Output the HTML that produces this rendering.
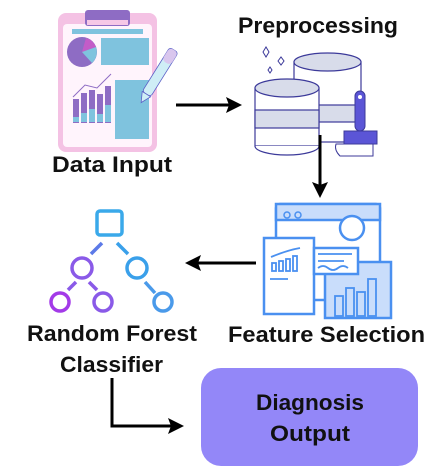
<!DOCTYPE html>
<html><head><meta charset="utf-8"><style>
html,body{margin:0;padding:0;background:#fff;width:432px;height:475px;overflow:hidden}
text{font-family:"Liberation Sans",sans-serif;font-weight:bold;fill:#111}
</style></head><body>
<svg width="432" height="475" viewBox="0 0 432 475" xmlns="http://www.w3.org/2000/svg">
<!-- Clipboard -->
<rect x="58" y="13" width="99" height="139" rx="8" fill="#f4c2e4"/>
<rect x="63" y="24" width="89" height="123" rx="4" fill="#fff4fc"/>
<rect x="85" y="10" width="45" height="16" rx="3" fill="#8e6cc4"/>
<rect x="87" y="20" width="41" height="5" fill="#f6c8e6"/>
<rect x="72" y="29" width="71" height="5" fill="#7fc3de"/>
<circle cx="82" cy="52" r="15" fill="#8e6cc4"/>
<path d="M82 52 L86 38 A15 15 0 0 1 96 47 Z" fill="#c35cc8"/>
<path d="M82 52 L96 47 A15 15 0 0 1 92 63 Z" fill="#7fc3de"/>
<rect x="101" y="38" width="48" height="27" fill="#7fc3de"/>
<rect x="115" y="80" width="34" height="59" fill="#7fc3de"/>
<polyline points="73,97 85,85 97,88 111,74" fill="none" stroke="#8e6cc4" stroke-width="1"/>
<g fill="#8e6cc4">
<rect x="73" y="99" width="6" height="24"/><rect x="81" y="93" width="6" height="30"/><rect x="89" y="90" width="6" height="33"/><rect x="97" y="94" width="6" height="29"/><rect x="105" y="86" width="6" height="37"/></g>
<g fill="#7fc3de"><rect x="73" y="117" width="6" height="5"/><rect x="81" y="113" width="6" height="9"/><rect x="89" y="109" width="6" height="13"/><rect x="97" y="114" width="6" height="8"/><rect x="105" y="105" width="6" height="17"/></g>
<g transform="translate(174,50) rotate(32)">
<rect x="-5" y="0" width="10" height="52" rx="3" fill="#cfeef6" stroke="#5b5fc7" stroke-width="0.8"/>
<rect x="-5" y="0" width="10" height="15" rx="4" fill="#d9c6ee"/>
<path d="M-5 52 L0 62 L5 52 Z" fill="#cfeef6" stroke="#5b5fc7" stroke-width="0.8"/>
</g>
<text x="52" y="172" font-size="22" textLength="120" lengthAdjust="spacingAndGlyphs">Data Input</text>

<!-- arrow right -->
<line x1="176" y1="105" x2="230" y2="105" stroke="#000" stroke-width="3"/>
<path d="M242 105 L226 97 L229 105 L226 113 Z" fill="#000"/>

<!-- Preprocessing -->
<text x="238" y="33" font-size="22" textLength="160" lengthAdjust="spacingAndGlyphs">Preprocessing</text>
<g stroke="#3c3a9a" stroke-width="1.2" fill="#fff">
<rect x="294" y="62" width="67" height="80"/>
<ellipse cx="327.5" cy="62" rx="33.5" ry="9" fill="#d8dcea"/>
<rect x="294" y="105" width="67" height="17" fill="#d8dcea"/>
<rect x="255" y="88" width="64" height="58"/>
<rect x="255" y="110" width="64" height="18" fill="#d8dcea"/>
<ellipse cx="287" cy="88" rx="32" ry="9" fill="#d8dcea"/>
<path d="M255 146 A32 9 0 0 0 319 146" />
</g>
<g fill="#5b55d6" stroke="#3c3a9a">
<rect x="355" y="91" width="10" height="40" rx="5"/>
<path d="M344 131 H377 V144 H344 Z"/>
</g>
<circle cx="360" cy="97" r="2" fill="#fff"/>
<path d="M336 144 H373 V156 H340 Q334 150 336 144Z" fill="#fff" stroke="#3c3a9a" stroke-width="1"/>
<g fill="none" stroke="#3c3a9a" stroke-width="1"><path d="M263 52 l3 -5 l3 5 l-3 5z M278 61 l3 -4 l3 4 l-3 4z M268 70 l2 -3 l2 3 l-2 3z"/></g>

<!-- arrow down -->
<line x1="320" y1="135" x2="320" y2="185" stroke="#000" stroke-width="3"/>
<path d="M320 198 L312 182 L320 185 L328 182 Z" fill="#000"/>

<!-- Feature Selection icon -->
<g stroke="#4a90f0" stroke-width="2.5">
<rect x="276" y="204" width="104" height="96" rx="4" fill="#fff"/>
<rect x="276" y="204" width="104" height="16" fill="#c9ddfb"/>
<rect x="325" y="262" width="66" height="56" fill="#c9ddfb"/>
<rect x="264" y="238" width="50" height="76" fill="#fff"/>
<rect x="314" y="248" width="44" height="26" fill="#fff"/>
<circle cx="352" cy="228" r="12" fill="#fff"/>
</g>
<circle cx="287" cy="215" r="3" fill="none" stroke="#4a90f0" stroke-width="1.5"/>
<circle cx="298" cy="215" r="3" fill="none" stroke="#4a90f0" stroke-width="1.5"/>
<g fill="none" stroke="#4a90f0" stroke-width="1.8">
<rect x="272" y="263" width="4" height="8"/><rect x="279" y="261" width="4" height="10"/><rect x="286" y="259" width="4" height="12"/><rect x="293" y="256" width="4" height="15"/>
<path d="M271 257 Q288 250 300 248"/><line x1="270" y1="279" x2="288" y2="279"/>
<line x1="318" y1="254" x2="352" y2="254"/><line x1="318" y1="261" x2="344" y2="261"/><path d="M318 268 q5 -4 10 0 t10 0 t10 0"/>
<rect x="335" y="296" width="8" height="20"/><rect x="346" y="288" width="8" height="28"/><rect x="357" y="292" width="8" height="24"/><rect x="368" y="279" width="8" height="37"/>
</g>
<text x="228" y="342" font-size="22" textLength="197" lengthAdjust="spacingAndGlyphs">Feature Selection</text>

<!-- arrow left -->
<line x1="256" y1="263" x2="198" y2="263" stroke="#000" stroke-width="3"/>
<path d="M185 263 L201 255 L198 263 L201 271 Z" fill="#000"/>

<!-- Tree icon -->
<g fill="none" stroke-width="3.5">
<rect x="97" y="211" width="25" height="24" rx="3" stroke="#3aa9ea"/>
<circle cx="82" cy="268" r="10" stroke="#8a5ae8"/>
<circle cx="137" cy="268" r="10" stroke="#3aa0ea"/>
<circle cx="60" cy="302" r="9" stroke="#a33ae8"/>
<circle cx="103" cy="302" r="9" stroke="#8a5ae8"/>
<circle cx="163" cy="302" r="9" stroke="#4a9aea"/>
<line x1="102" y1="243" x2="91" y2="254" stroke="#5c7ae8"/>
<line x1="117" y1="243" x2="128" y2="254" stroke="#3aa0ea"/>
<line x1="76" y1="282" x2="68" y2="290" stroke="#8a5ae8"/>
<line x1="89" y1="282" x2="97" y2="290" stroke="#8a5ae8"/>
<line x1="145" y1="282" x2="155" y2="293" stroke="#4a9aea"/>
</g>
<text x="27" y="341" font-size="22" textLength="170" lengthAdjust="spacingAndGlyphs">Random Forest</text>
<text x="60" y="372" font-size="22" textLength="103" lengthAdjust="spacingAndGlyphs">Classifier</text>

<!-- elbow arrow -->
<polyline points="112,378 112,426 172,426" fill="none" stroke="#000" stroke-width="3"/>
<path d="M184 426 L168 418 L171 426 L168 434 Z" fill="#000"/>

<!-- Diagnosis box -->
<rect x="201" y="368" width="217" height="98" rx="20" fill="#9387f8"/>
<text x="256" y="410" font-size="22" textLength="108" lengthAdjust="spacingAndGlyphs">Diagnosis</text>
<text x="270" y="441" font-size="22" textLength="80" lengthAdjust="spacingAndGlyphs">Output</text>
</svg>
</body></html>
